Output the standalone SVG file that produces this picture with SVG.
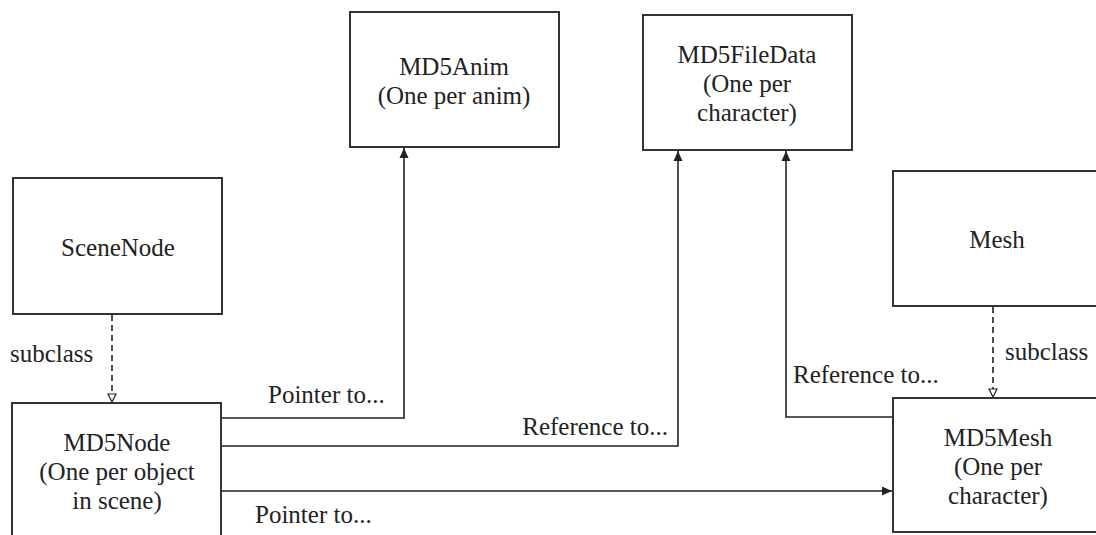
<svg xmlns="http://www.w3.org/2000/svg" width="1096" height="535" viewBox="0 0 1096 535">
<style>
.box{fill:#fff;stroke:#333;stroke-width:2}
.t{font-family:'Liberation Serif','Times New Roman',Tinos,'DejaVu Serif',serif;font-size:25px;fill:#222}
.c{text-anchor:middle}
.ln{fill:none;stroke:#222;stroke-width:1.6}
.dash{fill:none;stroke:#222;stroke-width:1.6;stroke-dasharray:6 4}
</style>
<defs>
<marker id="arr" markerUnits="userSpaceOnUse" markerWidth="12" markerHeight="12" viewBox="0 0 12 12" refX="11" refY="6" orient="auto">
<path d="M1,1.5 L11,6 L1,10.5 Z" fill="#222"/>
</marker>
<marker id="hol" markerUnits="userSpaceOnUse" markerWidth="10" markerHeight="10" viewBox="0 0 10 10" refX="9" refY="5" orient="auto">
<path d="M1,1 L9,5 L1,9 Z" fill="#fff" stroke="#222" stroke-width="1.2"/>
</marker>
</defs>
<rect width="1096" height="535" fill="#fff"/>
<g id="connectors" font-family="Liberation Serif, serif">
<path class="ln" d="M221,418 H404 V148" marker-end="url(#arr)"/>
<path class="ln" d="M221,446 H678 V151" marker-end="url(#arr)"/>
<path class="ln" d="M893,417 H786 V151" marker-end="url(#arr)"/>
<path class="ln" d="M221,491 H892" marker-end="url(#arr)"/>
<path class="dash" d="M112,315 V402" marker-end="url(#hol)"/>
<path class="dash" d="M993,307 V397" marker-end="url(#hol)"/>
<text class="t" x="10" y="362">subclass</text>
<text class="t" x="268" y="403">Pointer to...</text>
<text class="t" x="668" y="435" text-anchor="end">Reference to...</text>
<text class="t" x="255" y="523">Pointer to...</text>
<text class="t" x="793" y="383">Reference to...</text>
<text class="t" x="1005" y="360">subclass</text>
</g>
<g id="md5anim">
<rect class="box" x="350" y="12" width="209" height="135"/>
<text class="t c" x="454" y="75">MD5Anim</text>
<text class="t c" x="454" y="104">(One per anim)</text>
</g>
<g id="md5filedata">
<rect class="box" x="643" y="15" width="209" height="135"/>
<text class="t c" x="747" y="63">MD5FileData</text>
<text class="t c" x="747" y="92">(One per</text>
<text class="t c" x="747" y="121">character)</text>
</g>
<g id="scenenode">
<rect class="box" x="13" y="178" width="209" height="136"/>
<text class="t c" x="118" y="256">SceneNode</text>
</g>
<g id="md5node">
<rect class="box" x="12" y="403" width="209" height="145"/>
<text class="t c" x="117" y="451">MD5Node</text>
<text class="t c" x="117" y="480">(One per object</text>
<text class="t c" x="117" y="509">in scene)</text>
</g>
<g id="mesh">
<rect class="box" x="893" y="171" width="215" height="135"/>
<text class="t c" x="997" y="248">Mesh</text>
</g>
<g id="md5mesh">
<rect class="box" x="893" y="398" width="215" height="134"/>
<text class="t c" x="998" y="446">MD5Mesh</text>
<text class="t c" x="998" y="475">(One per</text>
<text class="t c" x="998" y="504">character)</text>
</g>
</svg>
